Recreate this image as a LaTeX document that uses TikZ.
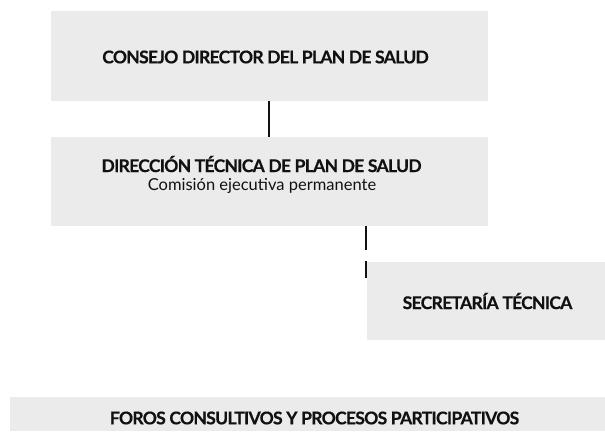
\documentclass[tikz,border=0pt]{standalone}
\usepackage{fontspec}
\setmainfont{Lato}
\newfontfamily\titlefont{Lato}[LetterSpace=-4, BoldFeatures={FakeBold=0.5}]
\definecolor{boxgray}{HTML}{EBEBEB}
\definecolor{ink}{HTML}{111111}
\begin{document}
\begin{tikzpicture}[x=1pt,y=-1pt,
  box/.style={fill=boxgray, draw=none, inner sep=0pt},
  title/.style={font=\titlefont\fontsize{17.5}{20}\selectfont\bfseries, text=ink, inner sep=0pt},
  sub/.style={font=\fontsize{16.5}{19}\selectfont, text=ink, inner sep=0pt},
  link/.style={draw=ink, line width=2.2pt}]
\useasboundingbox (0,0) rectangle (605,431);
% boxes
\node[box, minimum width=437pt, minimum height=90pt] (cd) at (269.5,56) {};
\node[box, minimum width=437pt, minimum height=89pt] (dt) at (269.5,181.5) {};
\node[box, minimum width=238pt, minimum height=78pt] (st) at (486,301) {};
\fill[boxgray] (10,397) rectangle (605,431);
% texts
\node[title] (cdt) at (265.5,57) {CONSEJO DIRECTOR DEL PLAN DE SALUD};
\node[title] (dtt) at (261.5,164) {DIRECCIÓN TÉCNICA DE PLAN DE SALUD};
\node[sub] (dts) at (262,186) {Comisión ejecutiva permanente};
\node[title] (stt) at (487.5,301) {SECRETARÍA TÉCNICA};
\node[title] (fct) at (314.5,418) {FOROS CONSULTIVOS Y PROCESOS PARTICIPATIVOS};
% connectors
\draw[link] (cd.south -| 269,0) -- (dt.north -| 269,0);
\coordinate (k1) at (366,250);
\coordinate (k2) at (366,261);
\coordinate (k3) at (366,278);
\draw[link] (dt.south -| k1) -- (k1);
\draw[link] (k2) -- (k3);
\end{tikzpicture}
\end{document}
